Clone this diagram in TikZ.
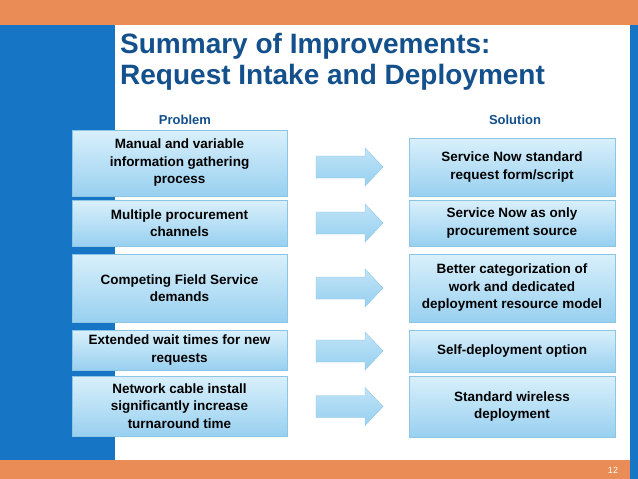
\documentclass[tikz,border=0pt]{standalone}
\usepackage{fontspec}
\setmainfont{Liberation Sans}
\definecolor{orng}{HTML}{E98C55}
\definecolor{sblue}{HTML}{1675C4}
\definecolor{ttl}{HTML}{13508C}
\definecolor{btop}{HTML}{D9F0FB}
\definecolor{bbot}{HTML}{98D0F0}
\definecolor{bedge}{HTML}{8CC6E6}
\tikzset{
  box/.style={draw=bedge, top color=btop, bottom color=bbot, minimum width=215pt, align=center, font=\bfseries\fontsize{13.5}{17.5}\selectfont, inner sep=0pt},
  rbox/.style={box, minimum width=206pt},
  arr/.style={draw=bedge, top color=btop!60!bbot, bottom color=bbot},
  hdr/.style={text=ttl, font=\bfseries\fontsize{13}{15}\selectfont}
}
\begin{document}
\begin{tikzpicture}[x=1pt,y=-1pt]
\useasboundingbox (0,0) rectangle (638,479);
\fill[white] (0,0) rectangle (638,479);
\fill[orng] (0,0) rectangle (638,25);
\fill[sblue] (0,25) rectangle (115,460);
\fill[sblue] (630,25) rectangle (638,479);
\fill[orng] (0,460) rectangle (630,479);
\node[text=white, font=\fontsize{9}{10}\selectfont] (pg) at (613,470) {12};
\node[anchor=north west, align=left, text=ttl, font=\bfseries\fontsize{28}{31}\selectfont, inner sep=0pt] (title) at (120,33) {Summary of Improvements:\\Request Intake and Deployment};
\node[hdr] (hp) at (185,120) {Problem};
\node[hdr] (hs) at (515,120) {Solution};
\foreach \i/\ya/\yb/\ra/\rb/\lt/\rt in {
 1/130/196/138/196/{Manual and variable\\information gathering\\process}/{Service Now standard\\request form/script},
 2/200/246/200/246/{Multiple procurement\\channels}/{Service Now as only\\procurement source},
 3/254/322/254/322/{Competing Field Service\\demands}/{Better categorization of\\work and dedicated\\deployment resource model},
 4/330/370/330/372/{Extended wait times for new\\requests}/{Self-deployment option},
 5/376/436/376/437/{Network cable install\\significantly increase\\turnaround time}/{Standard wireless\\deployment}}{
  \node[box, minimum height={\yb-\ya}] (l\i) at (179.5,{(\ya+\yb)/2}) {\lt};
  \node[rbox, minimum height={\rb-\ra}] (r\i) at (512,{(\ra+\rb)/2}) {\rt};
  \coordinate (a\i) at (316,{(\ra+\rb)/2});
  \draw[arr] (a\i) ++(0,-11) -- ++(49,0) -- ++(0,-8) -- ++(18,19) -- ++(-18,19) -- ++(0,-8) -- ++(-49,0) -- cycle;
}
\end{tikzpicture}
\end{document}
